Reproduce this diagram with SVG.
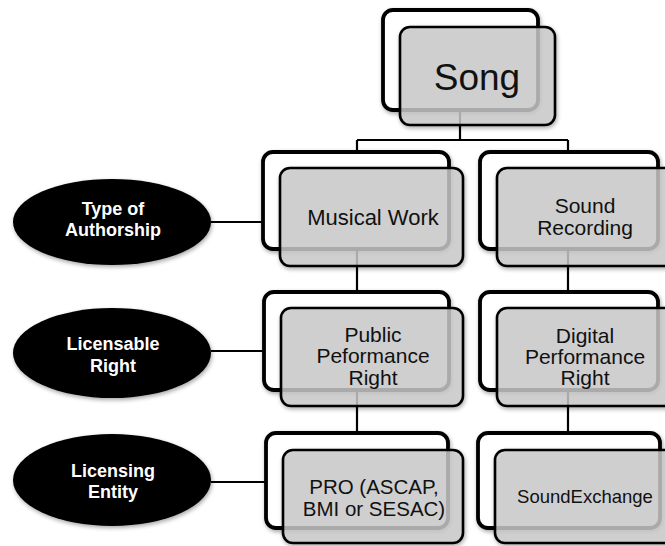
<svg xmlns="http://www.w3.org/2000/svg" width="665" height="546" viewBox="0 0 665 546">
<defs>
<filter id="sh" x="-10%" y="-10%" width="125%" height="125%">
<feGaussianBlur in="SourceAlpha" stdDeviation="2"/>
<feOffset dx="1" dy="2" result="b"/>
<feComponentTransfer><feFuncA type="linear" slope="0.35"/></feComponentTransfer>
<feMerge><feMergeNode/><feMergeNode in="SourceGraphic"/></feMerge>
</filter>
</defs>
<style>
.conn{stroke:#000;stroke-width:2.2;fill:none}
.back{fill:#fff;stroke:#000;stroke-width:3.8}
.front{fill:#cdcdcd;fill-opacity:0.8;stroke:#000;stroke-width:2.6}
.t{font-family:"Liberation Sans",Arial,sans-serif;fill:#111;text-anchor:middle;font-size:21px}
.el{fill:#000}
.et{font-family:"Liberation Sans",Arial,sans-serif;font-weight:bold;fill:#fff;text-anchor:middle;font-size:18px}
</style>
<rect width="665" height="546" fill="#fff"/>
<g id="connectors">
<path class="conn" d="M460 110 V140 M357 140 H568 M357 140 V152 M568 140 V152"/>
<path class="conn" d="M357 249 V292 M568 249 V292"/>
<path class="conn" d="M357 390 V433 M568 390 V433"/>
<path class="conn" d="M211 222 H264 M211 351 H264 M211 482 H266"/>
</g>
<g id="song">
<rect class="back" x="383" y="10" width="155" height="100" rx="10" filter="url(#sh)"/>
<rect class="front" x="400" y="27" width="155" height="98" rx="10" filter="url(#sh)"/>
<text class="t" x="477" y="90" style="font-size:37px">Song</text>
</g>
<g id="musical-work">
<rect class="back" x="263" y="152" width="186" height="97" rx="10" filter="url(#sh)"/>
<rect class="front" x="280" y="168" width="183" height="98" rx="10" filter="url(#sh)"/>
<text class="t" x="373" y="225" style="font-size:22px">Musical Work</text>
</g>
<g id="sound-recording">
<rect class="back" x="480" y="152" width="178" height="97" rx="10" filter="url(#sh)"/>
<rect class="front" x="497" y="168" width="182" height="98" rx="10" filter="url(#sh)"/>
<text class="t" x="585" y="213">Sound</text>
<text class="t" x="585" y="235">Recording</text>
</g>
<g id="public-performance">
<rect class="back" x="264" y="292" width="185" height="98" rx="10" filter="url(#sh)"/>
<rect class="front" x="281" y="308" width="182" height="98" rx="10" filter="url(#sh)"/>
<text class="t" x="373" y="342">Public</text>
<text class="t" x="373" y="363">Peformance</text>
<text class="t" x="373" y="385">Right</text>
</g>
<g id="digital-performance">
<rect class="back" x="480" y="292" width="178" height="98" rx="10" filter="url(#sh)"/>
<rect class="front" x="497" y="308" width="182" height="98" rx="10" filter="url(#sh)"/>
<text class="t" x="585" y="343">Digital</text>
<text class="t" x="585" y="364">Performance</text>
<text class="t" x="585" y="385">Right</text>
</g>
<g id="pro">
<rect class="back" x="266" y="433" width="182" height="95" rx="10" filter="url(#sh)"/>
<rect class="front" x="283" y="450" width="180" height="93" rx="10" filter="url(#sh)"/>
<text class="t" x="374" y="494" style="font-size:20.5px">PRO (ASCAP,</text>
<text class="t" x="374" y="516" style="font-size:20.5px">BMI or SESAC)</text>
</g>
<g id="soundexchange">
<rect class="back" x="478" y="433" width="182" height="95" rx="10" filter="url(#sh)"/>
<rect class="front" x="495" y="450" width="182" height="93" rx="10" filter="url(#sh)"/>
<text class="t" x="585" y="503" style="font-size:18.5px">SoundExchange</text>
</g>
<g id="type-of-authorship">
<ellipse class="el" cx="112" cy="222" rx="99" ry="43" filter="url(#sh)"/>
<text class="et" x="113" y="215">Type of</text>
<text class="et" x="113" y="236">Authorship</text>
</g>
<g id="licensable-right">
<ellipse class="el" cx="112" cy="353" rx="99" ry="45" filter="url(#sh)"/>
<text class="et" x="113" y="350">Licensable</text>
<text class="et" x="113" y="372">Right</text>
</g>
<g id="licensing-entity">
<ellipse class="el" cx="112" cy="480" rx="99" ry="46" filter="url(#sh)"/>
<text class="et" x="113" y="477">Licensing</text>
<text class="et" x="113" y="498">Entity</text>
</g>
</svg>
